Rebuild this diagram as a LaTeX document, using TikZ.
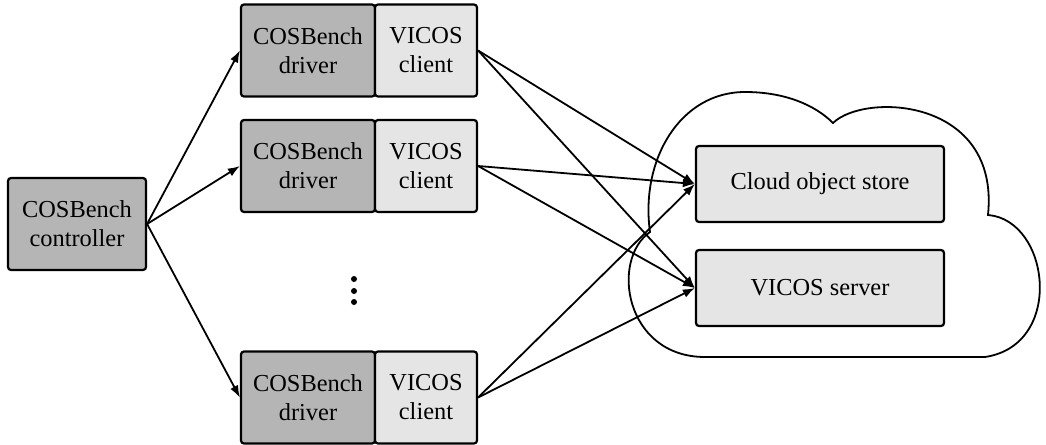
\documentclass[tikz,border=0pt]{standalone}
\usepackage{fontspec}
\setmainfont{Liberation Serif}
\usetikzlibrary{arrows.meta}
\definecolor{benchgray}{gray}{0.71}
\definecolor{vicosgray}{gray}{0.9}
\tikzset{
  box/.style={draw,line width=1.1pt,rounded corners=1.5pt,align=center,inner sep=0pt,
    font=\fontsize{12.2}{14.5}\selectfont},
  bench/.style={box,fill=benchgray,minimum height=46pt},
  vicos/.style={box,fill=vicosgray},
  link/.style={-{Latex[length=6pt,width=4.4pt]},line width=0.9pt},
}
\begin{document}
\begin{tikzpicture}[x=0.5pt,y=-0.5pt]
  \useasboundingbox (0,0) rectangle (1046,445);
  % cloud
  \draw[line width=0.9pt] (650,232) .. controls (640,160) and (680,92) .. (745,92)
    .. controls (785,92) and (815,105) .. (833,123)
    .. controls (865,92) and (1000,98) .. (988,215)
    .. controls (1050,220) and (1065,345) .. (985,357)
    -- (705,357)
    .. controls (625,357) and (610,260) .. (650,232) -- cycle;
  \node (ctrl) at (77,224) [bench,minimum width=69pt] {COSBench\\controller};
  \node (drvA) at (308,50.5) [bench,minimum width=67pt] {COSBench\\driver};
  \node (cliA) at (426,50.5) [vicos,minimum width=51pt,minimum height=46pt] {VICOS\\client};
  \node (drvB) at (308,166) [bench,minimum width=67pt] {COSBench\\driver};
  \node (cliB) at (426,166) [vicos,minimum width=51pt,minimum height=46pt] {VICOS\\client};
  \node (drvC) at (308,397.5) [bench,minimum width=67pt] {COSBench\\driver};
  \node (cliC) at (426,397.5) [vicos,minimum width=51pt,minimum height=46pt] {VICOS\\client};
  \node (store) at (820,184) [vicos,minimum width=124pt,minimum height=38pt] {Cloud object store};
  \node (server) at (820,288) [vicos,minimum width=124pt,minimum height=38pt] {VICOS server};
  \foreach \y in {279,291,302} \fill (354,\y) circle (3);
  % controller to drivers
  \draw[link] (ctrl.east) -- (drvA.west);
  \draw[link] (ctrl.east) -- (drvB.west);
  \draw[link] (ctrl.east) -- (drvC.west);
  % clients to the cloud
  \draw[link] (cliA.east) -- (store.west);
  \draw[link] (cliA.east) -- (server.west);
  \draw[link] (cliB.east) -- (store.west);
  \draw[link] (cliB.east) -- (server.west);
  \draw[link] (cliC.east) -- (store.west);
  \draw[link] (cliC.east) -- (server.west);
\end{tikzpicture}
\end{document}
